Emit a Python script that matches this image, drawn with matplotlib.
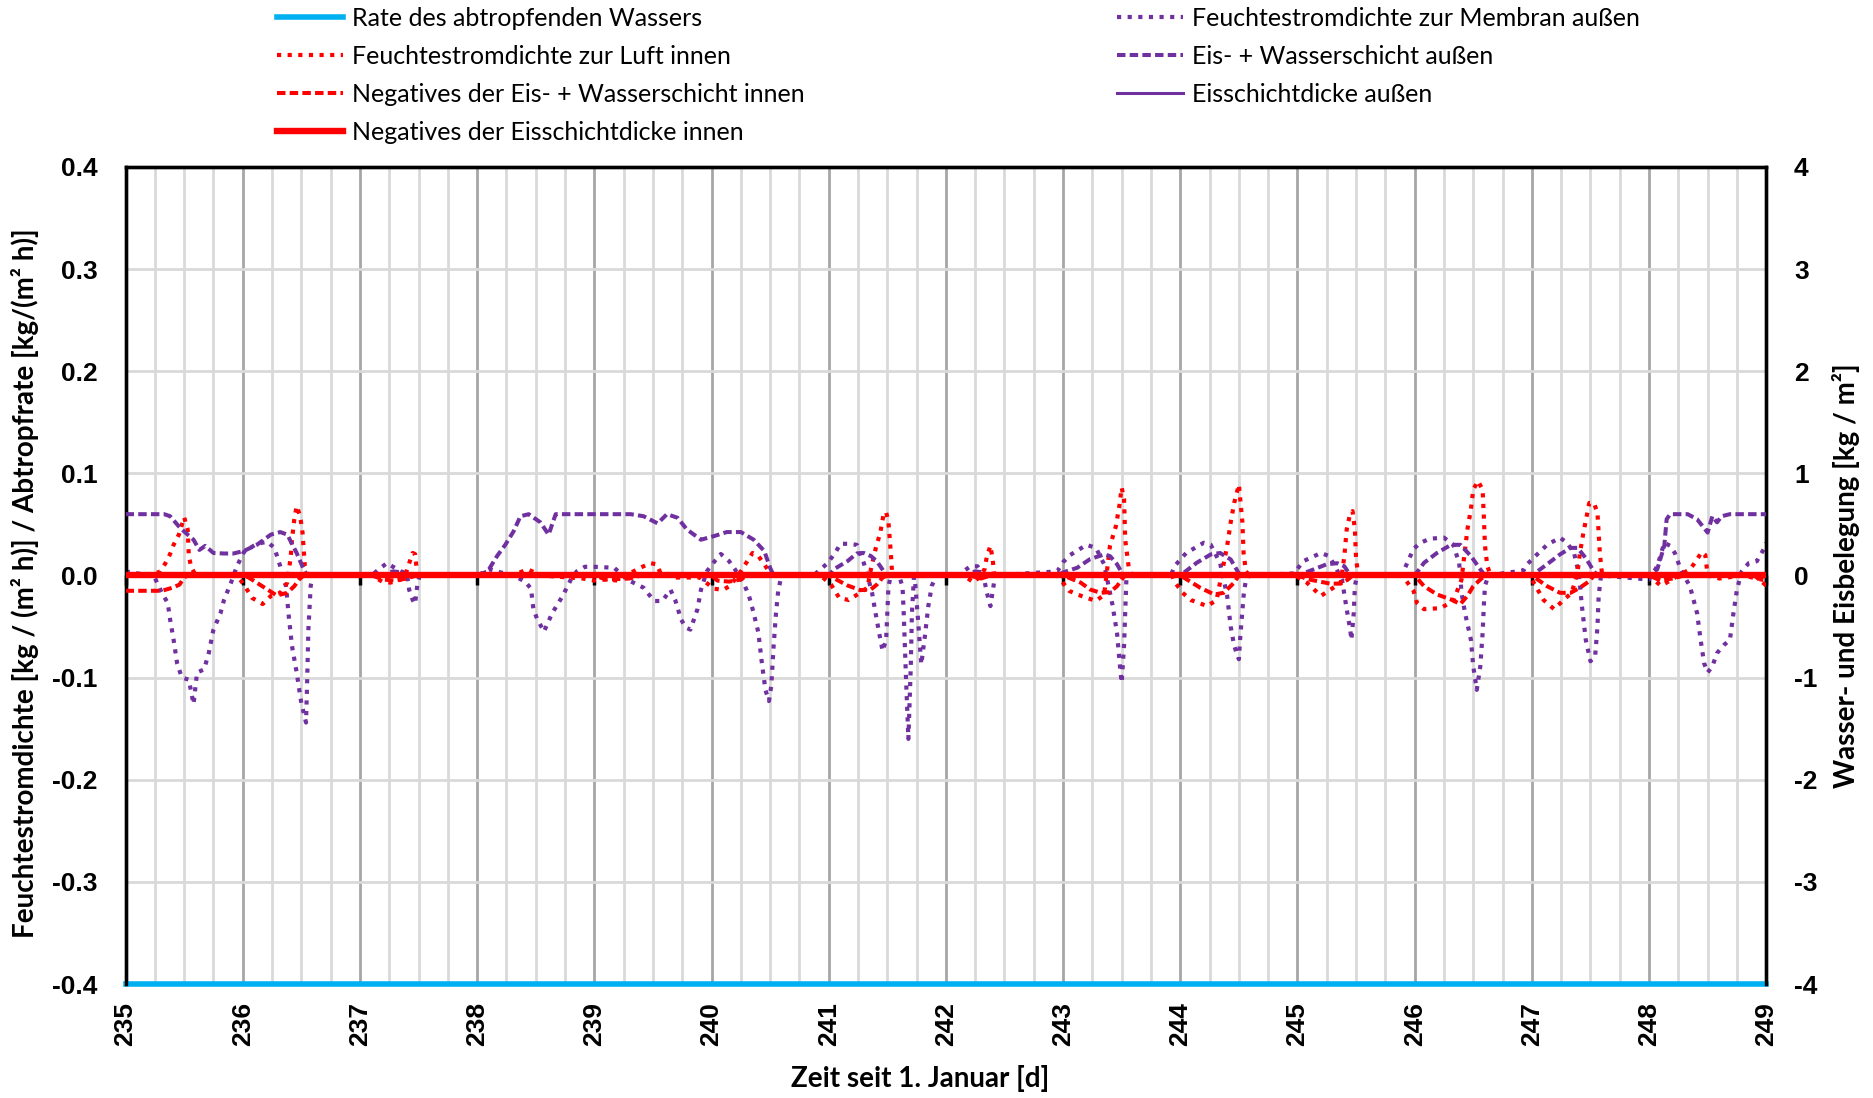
import matplotlib
matplotlib.use("Agg")
import matplotlib.pyplot as plt
from matplotlib.ticker import MultipleLocator

plt.rcParams['font.family'] = ['Lato', 'DejaVu Sans']

# --- data ------------------------------------------------------------------
days_span = [235, 249]

# Feuchtestromdichte zur Luft innen  [kg/(m² h)], left axis
luft_t = [235.0, 235.2, 235.3, 235.34, 235.38, 235.41, 235.455, 235.5, 235.53, 235.54, 235.56, 235.6,
          235.95, 236.01, 236.08, 236.17, 236.24, 236.32, 236.38, 236.41, 236.42, 236.44, 236.46, 236.49,
          236.51, 236.53, 236.56,
          237.1, 237.19, 237.26, 237.33, 237.38, 237.42, 237.45, 237.47, 237.49,
          238.3, 238.43, 238.47, 238.55,
          238.9, 239.0, 239.1, 239.2, 239.3, 239.4, 239.48, 239.53, 239.57, 239.7, 239.9, 240.02, 240.1,
          240.16, 240.25, 240.3, 240.35, 240.4, 240.45, 240.5, 240.53,
          240.93, 241.02, 241.09, 241.17, 241.24, 241.33, 241.36, 241.4, 241.44, 241.47, 241.49, 241.51,
          241.53, 241.54, 241.56,
          242.15, 242.24, 242.28, 242.33, 242.35, 242.38, 242.4, 242.41, 242.43,
          242.95, 242.98, 243.05, 243.13, 243.28, 243.35, 243.4, 243.45, 243.48, 243.5, 243.52, 243.53,
          243.56, 243.59,
          243.93, 243.95, 244.02, 244.09, 244.23, 244.31, 244.4, 244.43, 244.46, 244.5, 244.53, 244.54,
          244.56, 244.59,
          244.98, 245.08, 245.2, 245.28, 245.37, 245.4, 245.42, 245.45, 245.47, 245.49, 245.5, 245.52,
          245.9, 245.92, 245.99, 246.02, 246.08, 246.22, 246.33, 246.4, 246.42, 246.45, 246.48, 246.5,
          246.54, 246.58, 246.59, 246.6, 246.62, 246.65,
          246.98, 247.04, 247.1, 247.19, 247.27, 247.34, 247.39, 247.41, 247.44, 247.49, 247.53, 247.56,
          247.58, 247.6,
          248.0, 248.1, 248.15, 248.25, 248.35, 248.4, 248.45, 248.48, 248.5, 248.6, 248.8, 249.0]
luft_v = [0, 0, 0.004, 0.012, 0.021, 0.030, 0.040, 0.057, 0.045, 0.019, 0.008, 0,
          0, -0.009, -0.022, -0.028, -0.020, -0.017, -0.007, 0.019, 0.035, 0.055, 0.068, 0.058,
          0.042, 0.009, 0,
          0, -0.006, -0.007, -0.005, -0.002, 0.012, 0.022, 0.021, 0,
          0, 0.006, 0.004, 0,
          -0.003, -0.005, -0.004, -0.005, 0.002, 0.008, 0.012, 0.011, 0.001, -0.002, -0.002, -0.013, -0.014,
          -0.010, 0.004, 0.013, 0.022, 0.019, 0.011, 0.002, 0,
          0, -0.009, -0.022, -0.024, -0.019, -0.012, 0.006, 0.026, 0.042, 0.061, 0.062, 0.052,
          0.022, 0.004, 0,
          0, -0.007, -0.002, 0.006, 0.019, 0.029, 0.015, 0.003, 0,
          0, -0.004, -0.015, -0.019, -0.025, -0.019, 0.029, 0.048, 0.068, 0.086, 0.075, 0.035,
          0.008, 0,
          0, -0.006, -0.017, -0.024, -0.030, -0.024, 0.029, 0.052, 0.071, 0.089, 0.052, 0.022,
          0.004, 0,
          0, -0.007, -0.020, -0.014, -0.007, 0.019, 0.045, 0.061, 0.063, 0.045, 0.016, 0,
          0, -0.004, -0.015, -0.027, -0.033, -0.032, -0.025, -0.004, 0.016, 0.045, 0.065, 0.084,
          0.0925, 0.084, 0.058, 0.029, 0.009, 0,
          0, -0.012, -0.024, -0.033, -0.024, -0.017, 0.003, 0.022, 0.042, 0.071, 0.071, 0.061,
          0.022, 0,
          0, -0.010, -0.007, 0, 0.006, 0.014, 0.023, 0.020, 0, -0.003, 0.0, -0.005]

# Feuchtestromdichte zur Membran außen  [kg/(m² h)], left axis
membran_t = [235.0, 235.1, 235.24, 235.31, 235.36, 235.38, 235.41, 235.44, 235.48, 235.54, 235.58, 235.61,
             235.67, 235.71, 235.75, 235.81, 235.84, 235.9, 235.95, 236.01, 236.12, 236.21, 236.27, 236.32,
             236.37, 236.39, 236.42, 236.46, 236.5, 236.54, 236.55, 236.56, 236.58, 236.6,
             237.1, 237.16, 237.23, 237.29, 237.35, 237.4, 237.42, 237.45, 237.47, 237.49, 237.51,
             238.0, 238.11, 238.2, 238.31, 238.41, 238.46, 238.48, 238.51, 238.57, 238.64, 238.73, 238.8,
             238.85, 238.92, 239.0, 239.17, 239.28, 239.42, 239.51, 239.58, 239.65, 239.69, 239.74, 239.78,
             239.82, 239.88, 239.91, 239.96, 240.02, 240.08, 240.15, 240.2, 240.28, 240.32, 240.36, 240.4,
             240.43, 240.46, 240.49, 240.51, 240.53, 240.55, 240.57, 240.59, 240.62,
             240.87, 240.93, 240.99, 241.06, 241.1, 241.17, 241.24, 241.3, 241.34, 241.37, 241.4, 241.43,
             241.46, 241.49, 241.5, 241.51, 241.53, 241.6, 241.63, 241.64, 241.66, 241.68, 241.7, 241.71,
             241.73, 241.76, 241.79, 241.82, 241.85, 241.88, 241.92,
             242.1, 242.21, 242.27, 242.32, 242.35, 242.38, 242.4, 242.42,
             242.95, 243.0, 243.06, 243.2, 243.28, 243.35, 243.42, 243.46, 243.49, 243.5, 243.52, 243.53,
             243.54, 243.57,
             243.92, 243.95, 244.05, 244.2, 244.26, 244.34, 244.4, 244.43, 244.46, 244.5, 244.51, 244.54,
             244.56, 244.59,
             244.97, 245.05, 245.2, 245.27, 245.32, 245.38, 245.42, 245.45, 245.46, 245.48, 245.49, 245.51,
             245.9, 245.92, 245.99, 246.05, 246.13, 246.25, 246.33, 246.38, 246.4, 246.43, 246.48, 246.5,
             246.53, 246.56, 246.58, 246.59, 246.6, 246.63,
             246.93, 246.96, 247.03, 247.13, 247.24, 247.3, 247.36, 247.4, 247.43, 247.46, 247.5, 247.54,
             247.56, 247.57, 247.59,
             248.0, 248.07, 248.13, 248.18, 248.22, 248.27, 248.35, 248.41, 248.44, 248.47, 248.5, 248.54,
             248.58, 248.64, 248.69, 248.72, 248.75, 248.79, 248.85, 248.92, 248.98, 249.0]
membran_v = [0.004, 0.002, 0, -0.017, -0.027, -0.043, -0.063, -0.086, -0.100, -0.102, -0.126, -0.095,
             -0.092, -0.076, -0.053, -0.037, -0.024, -0.007, 0.009, 0.023, 0.031, 0.033, 0.027, 0.009,
             -0.011, -0.037, -0.069, -0.095, -0.125, -0.144, -0.102, -0.053, -0.010, 0,
             0, 0.006, 0.012, 0.008, 0.004, 0.002, -0.014, -0.024, -0.028, -0.009, 0,
             0, 0.006, 0.003, 0, -0.006, -0.013, -0.033, -0.042, -0.055, -0.037, -0.020, -0.004,
             0.004, 0.0085, 0.0085, 0.0075, -0.004, -0.012, -0.025, -0.025, -0.014, -0.024, -0.043, -0.051,
             -0.053, -0.033, -0.014, 0.004, 0.013, 0.021, 0.014, 0.006, -0.009, -0.020, -0.037, -0.056,
             -0.086, -0.112, -0.123, -0.108, -0.069, -0.037, -0.014, -0.004, 0,
             0, 0.006, 0.012, 0.023, 0.031, 0.031, 0.030, 0.012, -0.004, -0.017, -0.037, -0.056,
             -0.074, -0.063, -0.037, -0.011, 0, 0, -0.011, -0.037, -0.102, -0.160, -0.090, -0.037,
             0.004, -0.040, -0.087, -0.060, -0.030, -0.010, 0,
             0, 0.009, 0.009, 0, -0.017, -0.030, -0.015, 0,
             0.004, 0.013, 0.020, 0.030, 0.027, 0.011, -0.028, -0.056, -0.095, -0.105, -0.069, -0.037,
             -0.004, 0,
             0, 0.009, 0.022, 0.032, 0.030, 0.012, -0.020, -0.050, -0.069, -0.082, -0.063, -0.020,
             -0.004, 0,
             0.002, 0.014, 0.022, 0.019, 0.009, -0.004, -0.033, -0.053, -0.063, -0.037, -0.010, 0,
             0, 0.008, 0.026, 0.032, 0.036, 0.037, 0.030, 0.012, -0.017, -0.037, -0.063, -0.089,
             -0.112, -0.089, -0.056, -0.030, -0.010, 0,
             0.005, 0.011, 0.019, 0.030, 0.037, 0.032, 0.022, 0.002, -0.033, -0.063, -0.084, -0.079,
             -0.050, -0.020, 0,
             -0.004, 0.009, 0.032, 0.029, 0.022, 0.006, -0.011, -0.037, -0.063, -0.086, -0.095, -0.089,
             -0.076, -0.068, -0.063, -0.037, -0.014, 0.004, 0.012, 0.014, 0.026, 0.032]

# Eis- + Wasserschicht außen  [kg/m²], right axis
aussen_t = [235.0, 235.33, 235.38, 235.455, 235.51, 235.58, 235.63, 235.68, 235.75, 235.84, 235.92, 236.01,
            236.12, 236.24, 236.32, 236.38, 236.46, 236.52, 236.55,
            237.2, 237.28, 237.36, 237.42,
            238.0, 238.09, 238.17, 238.24, 238.31, 238.37, 238.44, 238.54, 238.61, 238.67, 239.31, 239.42,
            239.54, 239.62, 239.71, 239.79, 239.91, 240.02, 240.13, 240.25, 240.36, 240.45, 240.5, 240.53,
            241.0, 241.05, 241.16, 241.24, 241.3, 241.36, 241.41, 241.47, 241.5,
            242.15, 242.25, 242.32, 242.36,
            242.95, 243.0, 243.12, 243.23, 243.35, 243.4, 243.46, 243.5, 243.52,
            244.0, 244.14, 244.26, 244.34, 244.43, 244.49, 244.51,
            245.0, 245.14, 245.25, 245.34, 245.4, 245.44, 245.47,
            246.0, 246.08, 246.19, 246.31, 246.39, 246.48, 246.56, 246.6,
            247.0, 247.13, 247.24, 247.33, 247.39, 247.46, 247.53, 247.56,
            248.0, 248.07, 248.13, 248.15, 248.18, 248.33, 248.41, 248.5, 248.54, 248.58, 248.62, 248.69,
            249.0]
aussen_v = [0.6, 0.6, 0.58, 0.48, 0.42, 0.35, 0.25, 0.29, 0.22, 0.215, 0.215, 0.24,
            0.30, 0.40, 0.425, 0.40, 0.22, 0.06, 0,
            0, 0.04, 0.03, 0,
            0, 0.04, 0.19, 0.30, 0.43, 0.58, 0.6, 0.52, 0.40, 0.6, 0.6, 0.58,
            0.51, 0.6, 0.565, 0.45, 0.35, 0.385, 0.425, 0.425, 0.35, 0.24, 0.075, 0,
            0, 0.065, 0.14, 0.216, 0.22, 0.19, 0.14, 0.04, 0,
            0, 0.04, 0.03, 0,
            0, 0.03, 0.075, 0.16, 0.206, 0.19, 0.11, 0.03, 0,
            0, 0.124, 0.206, 0.22, 0.157, 0.04, 0,
            0, 0.06, 0.11, 0.12, 0.09, 0.02, 0,
            0, 0.124, 0.22, 0.30, 0.30, 0.19, 0.06, 0,
            0, 0.11, 0.206, 0.27, 0.27, 0.17, 0.04, 0,
            0, 0.06, 0.29, 0.55, 0.6, 0.6, 0.55, 0.42, 0.58, 0.52, 0.58, 0.6,
            0.6]

# Negatives der Eis- + Wasserschicht innen  [kg/m²], right axis
innen_t = [235.0, 235.31, 235.4, 235.46, 235.5, 235.53,
           236.0, 236.05, 236.21, 236.29, 236.38, 236.44, 236.48, 236.52,
           237.1, 237.2, 237.3, 237.4, 237.48,
           239.0, 239.1, 239.3, 239.4,
           240.0, 240.05, 240.15, 240.25, 240.3,
           241.0, 241.16, 241.27, 241.36, 241.41, 241.46, 241.5,
           242.2, 242.3, 242.38,
           243.0, 243.15, 243.23, 243.32, 243.4, 243.46, 243.5, 243.53,
           244.0, 244.17, 244.29, 244.37, 244.46, 244.5,
           245.0, 245.1, 245.28, 245.37, 245.43, 245.47,
           246.0, 246.08, 246.19, 246.31, 246.39, 246.45, 246.5, 246.56, 246.6,
           247.0, 247.13, 247.24, 247.33, 247.41, 247.49, 247.53,
           248.0, 248.1, 248.2, 248.3, 248.9, 249.0]
innen_v = [-0.15, -0.15, -0.12, -0.09, -0.02, 0,
           0, -0.02, -0.137, -0.196, -0.17, -0.105, -0.04, 0,
           0, -0.04, -0.05, -0.03, 0,
           0, -0.04, -0.03, 0,
           0, -0.05, -0.06, -0.04, 0,
           0, -0.098, -0.144, -0.137, -0.09, -0.02, 0,
           0, -0.03, 0,
           0, -0.07, -0.137, -0.17, -0.163, -0.105, -0.04, 0,
           0, -0.12, -0.186, -0.17, -0.07, 0,
           0, -0.04, -0.08, -0.08, -0.04, 0,
           0, -0.105, -0.186, -0.235, -0.28, -0.20, -0.105, -0.04, 0,
           0, -0.105, -0.17, -0.17, -0.12, -0.056, 0,
           0, -0.05, -0.03, 0, 0, -0.1]

# constant series
rate_abtropf = [-0.4, -0.4]          # left axis
eis_aussen = [0, 0]                  # right axis
eis_innen_neg = [0, 0]               # right axis

RED = "#FF0000"
PURPLE = "#7030A0"
BLUE = "#00B0F0"
TICKFONT = ["Liberation Sans", "DejaVu Sans"]

fig = plt.figure(figsize=(18.74, 10.98), dpi=100)
ax = fig.add_axes([0.067, 0.1038, 0.8755, 0.7442])
ax2 = ax.twinx()

dot = dict(linestyle=(0, (1.0, 1.55)), dash_capstyle="butt", lw=3.0)
dash = dict(linestyle=(0, (2.1, 1.05)), lw=2.9)

l_rate, = ax.plot(days_span, rate_abtropf, color=BLUE, lw=4.0, clip_on=False, zorder=5,
                  label="Rate des abtropfenden Wassers")
l_mem, = ax.plot(membran_t, membran_v, color=PURPLE, zorder=3, **dot,
                 label="Feuchtestromdichte zur Membran außen")
l_luft, = ax.plot(luft_t, luft_v, color=RED, zorder=4, **dot,
                  label="Feuchtestromdichte zur Luft innen")
l_aus, = ax2.plot(aussen_t, aussen_v, color=PURPLE, zorder=3, **dash,
                  label="Eis- + Wasserschicht außen")
l_inn, = ax2.plot(innen_t, innen_v, color=RED, zorder=4, **dash,
                  label="Negatives der Eis- + Wasserschicht innen")
l_eaus, = ax2.plot(days_span, eis_aussen, color=PURPLE, lw=2.2, zorder=5,
                   label="Eisschichtdicke außen")
l_einn, = ax2.plot(days_span, eis_innen_neg, color=RED, lw=4.6, zorder=6,
                   label="Negatives der Eisschichtdicke innen")

ax.set_xlim(*days_span)
ax.set_ylim(-0.4, 0.4)
ax2.set_ylim(-4, 4)
ax.xaxis.set_major_locator(MultipleLocator(1))
ax.xaxis.set_minor_locator(MultipleLocator(0.25))
ax.yaxis.set_major_locator(MultipleLocator(0.1))
ax2.yaxis.set_major_locator(MultipleLocator(1))
ax.yaxis.set_major_formatter(lambda v, p: f"{v:.1f}")
ax2.yaxis.set_major_formatter(lambda v, p: f"{v:.0f}")

ax.grid(which="minor", axis="x", color="#D9D9D9", lw=2.0)
ax.grid(which="major", axis="x", color="#A6A6A6", lw=2.0)
ax.grid(which="major", axis="y", color="#D9D9D9", lw=2.0)
ax.set_axisbelow(True)

ax.tick_params(axis="x", which="both", length=0, pad=13, labelsize=19, rotation=90)
ax.tick_params(axis="y", length=0, pad=20, labelsize=19)
ax2.tick_params(axis="y", length=0, pad=20, labelsize=19)
for t in ax.get_xticklabels() + ax.get_yticklabels() + ax2.get_yticklabels():
    t.set_fontweight("bold")
    t.set_family(TICKFONT)
for a in (ax, ax2):
    for s in a.spines.values():
        s.set_linewidth(2.4)
        s.set_color("black")
    a.spines["bottom"].set_visible(False)

# small day ticks hanging below the zero line (above the grid, below the data)
zt = ax.secondary_xaxis(0.5)
zt.set_zorder(2)
zt.xaxis.set_major_locator(MultipleLocator(1))
zt.tick_params(axis="x", direction="in", length=7.5, width=2.5, color="black",
               labeltop=False, labelbottom=False)
for s in zt.spines.values():
    s.set_visible(False)

ax.set_xlabel("Zeit seit 1. Januar [d]", fontsize=20, fontweight="bold")
ax.xaxis.set_label_coords(0.484, -0.116)
ax.xaxis.label.set_va("center")
ax.set_ylabel("Feuchtestromdichte [kg / (m² h)] / Abtropfrate [kg/(m² h)]",
              fontsize=20, fontweight="bold")
ax.yaxis.set_label_coords(-0.061, 0.49)
ax.yaxis.label.set_va("center")
ax2.set_ylabel("Wasser- und Eisbelegung [kg / m²]", fontsize=20, fontweight="bold",
               rotation=90)
ax2.yaxis.set_label_coords(1.0485, 0.5)
ax2.yaxis.label.set_va("center")

leg_kw = dict(frameon=False, fontsize=18, handlelength=2.64, handletextpad=0.36,
              labelspacing=0.6, borderpad=0, borderaxespad=0, loc="upper left")
fig.legend(handles=[l_rate, l_luft, l_inn, l_einn], bbox_to_anchor=(277 / 1874, 1 - 7 / 1098), **leg_kw)
fig.legend(handles=[l_mem, l_aus, l_eaus], bbox_to_anchor=(1117 / 1874, 1 - 7 / 1098), **leg_kw)

fig.savefig("out.png", dpi=100)
